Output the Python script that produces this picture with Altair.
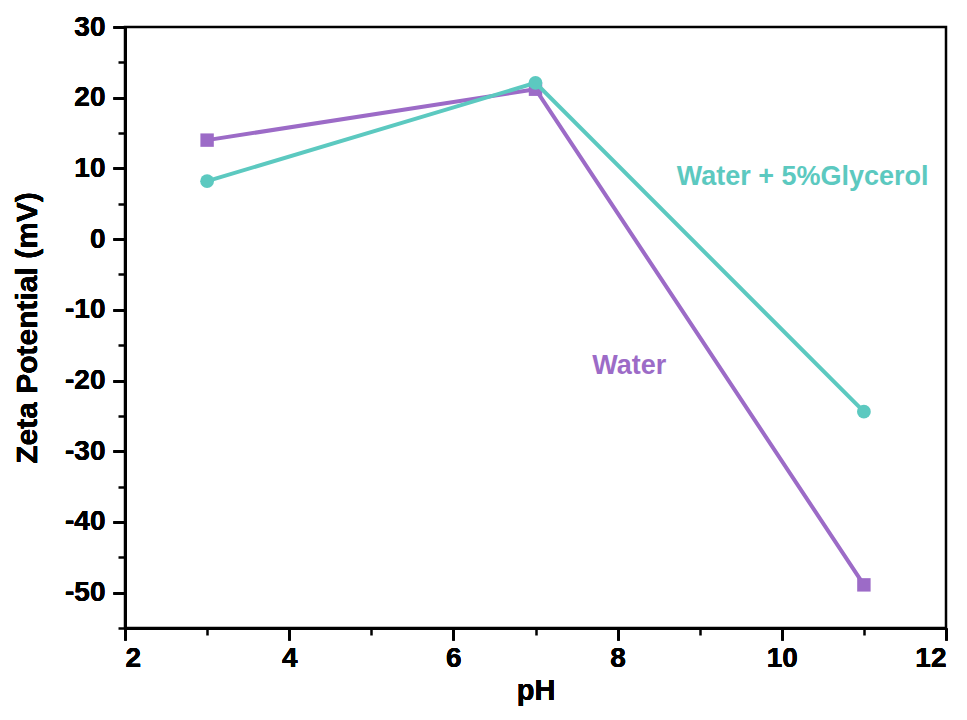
import altair as alt
import pandas as pd

ph = [3, 7, 11]
water = [14.0, 21.2, -48.9]
glycerol = [8.2, 22.1, -24.4]

series_names = ["Water", "Water + 5%Glycerol"]
colors = ["#9C6BC7", "#5CC9C0"]

x_major = [2, 4, 6, 8, 10, 12]
x_minor = [3, 5, 7, 9, 11]
y_major = [-50, -40, -30, -20, -10, 0, 10, 20, 30]
y_minor = [-55, -45, -35, -25, -15, -5, 5, 15, 25]

label_x = [7.69, 8.72]
label_y = [-17.9, 8.8]

rows = []
for p, w, g in zip(ph, water, glycerol):
    rows.append({"pH": p, "zeta": w, "series": series_names[0]})
    rows.append({"pH": p, "zeta": g, "series": series_names[1]})
df = pd.DataFrame(rows)
labels = pd.DataFrame({"x": label_x, "y": label_y, "text": series_names})

FONT = "Liberation Sans"
xscale = alt.Scale(domain=[2, 12], nice=False, zero=False)
yscale = alt.Scale(domain=[-55, 30], nice=False, zero=False)
cscale = alt.Scale(domain=series_names, range=colors)

def main_axis_x():
    return alt.Axis(values=x_major, tickSize=12, tickWidth=2.5, domainWidth=2.5,
                    domainColor="black", tickColor="black", labelFontSize=28,
                    labelFont=FONT, labelFontWeight="bold", labelColor="black",
                    labelPadding=4, title="pH", titleFontSize=29, titleFont=FONT,
                    titleFontWeight="bold", titleColor="black", titlePadding=4,
                    grid=False, orient="bottom", labelExpr="toString(datum.value)")

def main_axis_y():
    return alt.Axis(values=y_major, tickSize=12, tickWidth=2.5, domainWidth=2.5,
                    domainColor="black", tickColor="black", labelFontSize=28,
                    labelFont=FONT, labelFontWeight="bold", labelColor="black",
                    labelPadding=8, title="Zeta Potential (mV)", titleFontSize=30,
                    titleFont=FONT, titleFontWeight="bold", titleColor="black",
                    titlePadding=22, grid=False, orient="left",
                    labelExpr="toString(datum.value)")

base = alt.Chart(df)
enc = dict(
    x=alt.X("pH:Q", scale=xscale, axis=main_axis_x()),
    y=alt.Y("zeta:Q", scale=yscale, axis=main_axis_y()),
)

water_line = base.transform_filter(alt.datum.series == series_names[0]).mark_line(
    strokeWidth=4, color=colors[0]
).encode(**enc)
water_pts = base.transform_filter(alt.datum.series == series_names[0]).mark_point(
    shape="square", filled=True, size=180, opacity=1, color=colors[0]
).encode(**enc)
gly_line = base.transform_filter(alt.datum.series == series_names[1]).mark_line(
    strokeWidth=4, color=colors[1]
).encode(**enc)
gly_pts = base.transform_filter(alt.datum.series == series_names[1]).mark_point(
    shape="circle", filled=True, size=190, opacity=1, color=colors[1]
).encode(**enc)

minor_x = alt.Axis(values=x_minor, tickSize=7, tickWidth=2.5, tickColor="black",
                   labels=False, domain=False, title=None, grid=False, orient="bottom")
minor_y = alt.Axis(values=y_minor, tickSize=7, tickWidth=2.5, tickColor="black",
                   labels=False, domain=False, title=None, grid=False, orient="left")

text_layer = alt.Chart(labels).mark_text(
    align="left", baseline="middle", fontSize=27, font=FONT, fontWeight="bold"
).encode(
    x=alt.X("x:Q", scale=xscale, axis=minor_x),
    y=alt.Y("y:Q", scale=yscale, axis=minor_y),
    color=alt.Color("text:N", scale=cscale, legend=None),
    text="text:N",
)

chart = alt.layer(water_line, water_pts, gly_line, gly_pts, text_layer).resolve_axis(
    x="independent", y="independent"
).properties(
    width=821, height=601,
    autosize=alt.AutoSizeParams(type="none"),
    padding={"left": 117, "top": 19, "right": 12, "bottom": 84},
    background="white",
).configure_view(stroke="black", strokeWidth=2.5)

chart.save("out.html", embed_options={"renderer": "svg", "actions": False})
